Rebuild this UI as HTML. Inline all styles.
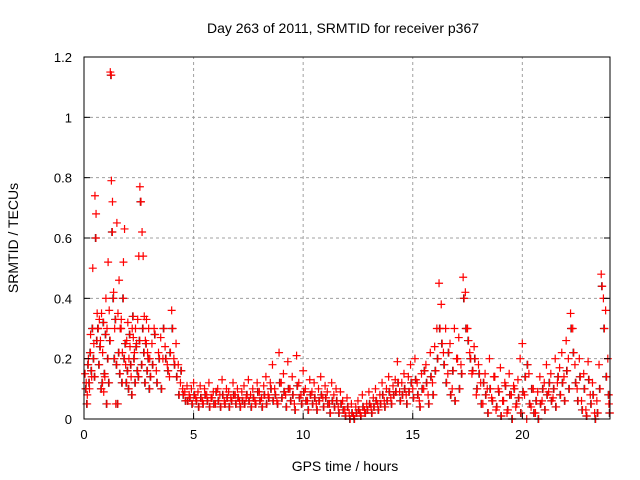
<!DOCTYPE html>
<html><head><meta charset="utf-8">
<style>
html,body{margin:0;padding:0;background:#fff;}
svg{display:block;font-family:"Liberation Sans",sans-serif;}
</style></head>
<body>
<svg id="chart" width="640" height="480" viewBox="0 0 640 480">
<g id="grid"></g>
<g id="pts"></g>
<rect x="84" y="57" width="526" height="362" fill="none" stroke="#000" stroke-width="1"/>
<g id="ticks"></g>
<text x="343" y="33" text-anchor="middle" font-size="14">Day 263 of 2011, SRMTID for receiver p367</text>
<text x="345" y="471" text-anchor="middle" font-size="14">GPS time / hours</text>
<text transform="translate(18,238) rotate(-90)" text-anchor="middle" font-size="14">SRMTID / TECUs</text>
</svg>
<script>
const xTicks=[0,5,10,15,20];
const yTicks=[0,0.2,0.4,0.6,0.8,1,1.2];
const yTickLabels=["0","0.2","0.4","0.6","0.8","1","1.2"];
const times=[
0.05,0.1,0.15,0.2,0.25,0.3,0.35,0.4,0.45,0.5,
0.55,0.6,0.65,0.7,0.75,0.8,0.85,0.9,0.95,1.0,
1.05,1.1,1.15,1.2,1.25,1.3,1.35,1.4,1.45,1.5,
1.55,1.6,1.65,1.7,1.75,1.8,1.85,1.9,1.95,2.0,
2.05,2.1,2.15,2.2,2.25,2.3,2.35,2.4,2.45,2.5,
2.55,2.6,2.65,2.7,2.75,2.8,2.85,2.9,2.95,3.0,
3.1,3.2,3.3,3.4,3.5,3.6,3.7,3.8,3.9,4.0,
4.1,4.2,4.3,4.4,4.5,4.6,4.7,4.8,4.9,5.0,
5.1,5.2,5.3,5.4,5.5,5.6,5.7,5.8,5.9,6.0,
6.1,6.2,6.3,6.4,6.5,6.6,6.7,6.8,6.9,7.0,
7.1,7.2,7.3,7.4,7.5,7.6,7.7,7.8,7.9,8.0,
8.1,8.2,8.3,8.4,8.5,8.6,8.7,8.8,8.9,9.0,
9.1,9.2,9.3,9.4,9.5,9.6,9.7,9.8,9.9,10.0,
10.1,10.2,10.3,10.4,10.5,10.6,10.7,10.8,10.9,11.0,
11.1,11.2,11.3,11.4,11.5,11.6,11.7,11.8,11.9,12.0,
12.1,12.2,12.3,12.4,12.5,12.6,12.7,12.8,12.9,13.0,
13.1,13.2,13.3,13.4,13.5,13.6,13.7,13.8,13.9,14.0,
14.1,14.2,14.3,14.4,14.5,14.6,14.7,14.8,14.9,15.0,
15.1,15.2,15.3,15.4,15.5,15.6,15.7,15.8,15.9,16.0,
16.1,16.2,16.3,16.4,16.5,16.6,16.7,16.8,16.9,17.0,
17.1,17.2,17.3,17.4,17.5,17.6,17.7,17.8,17.9,18.0,
18.1,18.2,18.3,18.4,18.5,18.6,18.7,18.8,18.9,19.0,
19.1,19.2,19.3,19.4,19.5,19.6,19.7,19.8,19.9,20.0,
20.1,20.2,20.3,20.4,20.5,20.6,20.7,20.8,20.9,21.0,
21.1,21.2,21.3,21.4,21.5,21.6,21.7,21.8,21.9,22.0,
22.1,22.2,22.3,22.4,22.5,22.6,22.7,22.8,22.9,23.0,
23.1,23.2,23.3,23.4,23.5,23.6,23.7,23.8,23.9,23.95];
const valuesA=[
0.15,0.12,0.08,0.2,0.1,0.28,0.14,0.5,0.25,0.74,
0.68,0.35,0.3,0.33,0.26,0.35,0.22,0.09,0.14,0.4,
0.3,0.52,0.36,1.15,0.79,0.72,0.42,0.3,0.05,0.65,
0.35,0.46,0.3,0.33,0.22,0.52,0.63,0.18,0.26,0.32,
0.2,0.24,0.14,0.3,0.27,0.22,0.3,0.25,0.33,0.54,
0.77,0.72,0.62,0.54,0.34,0.26,0.33,0.22,0.3,0.2,
0.25,0.3,0.16,0.22,0.27,0.2,0.24,0.18,0.14,0.36,
0.2,0.25,0.18,0.12,0.1,0.09,0.11,0.08,0.1,0.12,
0.07,0.09,0.11,0.06,0.1,0.08,0.12,0.07,0.09,0.05,
0.1,0.08,0.13,0.06,0.1,0.09,0.07,0.12,0.08,0.1,
0.06,0.09,0.11,0.07,0.13,0.08,0.1,0.06,0.12,0.09,
0.07,0.11,0.14,0.08,0.12,0.18,0.1,0.06,0.22,0.12,
0.15,0.08,0.19,0.1,0.14,0.05,0.21,0.12,0.08,0.16,
0.1,0.06,0.13,0.09,0.12,0.05,0.1,0.14,0.07,0.11,
0.09,0.05,0.12,0.08,0.1,0.04,0.09,0.06,0.03,0.07,
0.02,0.05,0.01,0.04,0.06,0.02,0.08,0.03,0.05,0.09,
0.04,0.07,0.1,0.05,0.08,0.12,0.06,0.1,0.14,0.07,
0.11,0.13,0.19,0.09,0.12,0.15,0.08,0.14,0.18,0.1,
0.2,0.12,0.06,0.15,0.1,0.18,0.08,0.22,0.12,0.24,
0.3,0.45,0.38,0.22,0.3,0.15,0.25,0.1,0.3,0.2,
0.27,0.18,0.47,0.42,0.3,0.22,0.15,0.24,0.08,0.18,
0.12,0.05,0.15,0.1,0.2,0.07,0.14,0.03,0.1,0.17,
0.06,0.12,0.02,0.15,0.08,0.11,0.04,0.13,0.2,0.25,
0.08,0.0,0.15,0.04,0.1,0.02,0.09,0.14,0.06,0.12,
0.18,0.09,0.15,0.07,0.2,0.12,0.17,0.22,0.14,0.26,
0.2,0.35,0.3,0.18,0.1,0.2,0.06,0.15,0.03,0.19,
0.08,0.12,0.02,0.06,0.18,0.48,0.4,0.36,0.2,0.05];
const valuesB=[
0.1,0.05,0.18,0.12,0.22,0.16,0.3,0.2,0.14,0.6,
0.26,0.3,0.18,0.24,0.1,0.12,0.32,0.15,0.28,0.05,
0.2,0.12,0.26,1.14,0.62,0.4,0.2,0.33,0.18,0.05,
0.22,0.15,0.3,0.12,0.4,0.2,0.25,0.12,0.16,0.1,
0.28,0.18,0.08,0.34,0.2,0.12,0.24,0.16,0.14,0.26,
0.72,0.18,0.3,0.22,0.12,0.25,0.16,0.2,0.1,0.14,
0.18,0.28,0.12,0.2,0.1,0.3,0.2,0.16,0.22,0.3,
0.18,0.14,0.08,0.16,0.08,0.06,0.06,0.07,0.05,0.08,
0.06,0.04,0.07,0.05,0.08,0.06,0.04,0.07,0.05,0.09,
0.06,0.04,0.08,0.05,0.07,0.04,0.06,0.08,0.05,0.07,
0.04,0.06,0.05,0.08,0.06,0.04,0.07,0.05,0.09,0.06,
0.04,0.08,0.05,0.07,0.1,0.06,0.08,0.05,0.12,0.07,
0.09,0.04,0.1,0.06,0.08,0.03,0.11,0.07,0.05,0.09,
0.06,0.03,0.08,0.05,0.07,0.03,0.06,0.08,0.04,0.07,
0.05,0.02,0.06,0.04,0.06,0.02,0.05,0.03,0.01,0.04,
0.0,0.02,0.0,0.02,0.03,0.01,0.04,0.02,0.03,0.05,
0.02,0.04,0.06,0.03,0.05,0.08,0.04,0.06,0.09,0.05,
0.08,0.09,0.12,0.06,0.08,0.1,0.05,0.09,0.12,0.07,
0.13,0.08,0.04,0.1,0.16,0.12,0.05,0.14,0.08,0.16,
0.2,0.3,0.25,0.18,0.12,0.22,0.08,0.16,0.06,0.2,
0.1,0.15,0.4,0.3,0.26,0.2,0.16,0.2,0.1,0.15,
0.05,0.12,0.08,0.02,0.1,0.06,0.14,0.04,0.09,0.01,
0.06,0.11,0.03,0.08,0.0,0.1,0.05,0.07,0.02,0.09,
0.14,0.18,0.05,0.1,0.02,0.06,0.0,0.05,0.1,0.03,
0.08,0.12,0.06,0.1,0.04,0.14,0.08,0.12,0.06,0.16,
0.1,0.3,0.22,0.12,0.06,0.14,0.03,0.1,0.01,0.13,
0.05,0.08,0.0,0.02,0.1,0.44,0.3,0.14,0.08,0.02];
const NS='http://www.w3.org/2000/svg';
const X0=84,X1=610,Y0=419,Y1=57;
function sx(t){return X0+(t/24)*(X1-X0);}
function sy(v){return Y0-(v/1.2)*(Y0-Y1);}
const grid=document.getElementById('grid'),ticks=document.getElementById('ticks'),pts=document.getElementById('pts');
function mk(tag,attrs,parent){const e=document.createElementNS(NS,tag);for(const k in attrs)e.setAttribute(k,attrs[k]);parent.appendChild(e);return e;}
xTicks.forEach((t,i)=>{
  const x=sx(t);
  if(t>0){const g=mk('line',{x1:x,x2:x,y1:Y0,y2:Y1,stroke:'#a0a0a0','stroke-dasharray':'3,3','stroke-width':1},grid);
  
  }
  const tk=mk('line',{x1:x,x2:x,y1:Y0,y2:Y0-6,stroke:'#000'},ticks);
  
  
  const tx=mk('text',{x:x,y:Y0+20,'text-anchor':'middle','font-size':13},ticks);
  tx.textContent=String(t);
  
  
});
yTicks.forEach((v,i)=>{
  const y=sy(v);
  if(v>0&&v<1.2){const g=mk('line',{x1:X0,x2:X1,y1:y,y2:y,stroke:'#a0a0a0','stroke-dasharray':'3,3','stroke-width':1},grid);
  
  }
  const tk=mk('line',{x1:X0,x2:X0+6,y1:y,y2:y,stroke:'#000'},ticks);
  
  
  const tk2=mk('line',{x1:X1,x2:X1-6,y1:y,y2:y,stroke:'#000'},ticks);
  
  
  const tx=mk('text',{x:X0-12,y:y+5,'text-anchor':'end','font-size':13},ticks);
  tx.textContent=yTickLabels[i];
  
  
});
function cross(t,v,color){
  const x=sx(t),y=sy(v);
  const p=mk('path',{d:`M${x-4} ${y}H${x+4}M${x} ${y-4}V${y+4}`,stroke:color,'stroke-width':1.2,fill:'none'},pts);
  
  
}
times.forEach((t,i)=>{cross(t+0.02,valuesB[i],'#333');});
times.forEach((t,i)=>{cross(t,valuesA[i],'#ff0000');cross(t+0.045,valuesB[i],'#ff0000');});
</script>
</body></html>
